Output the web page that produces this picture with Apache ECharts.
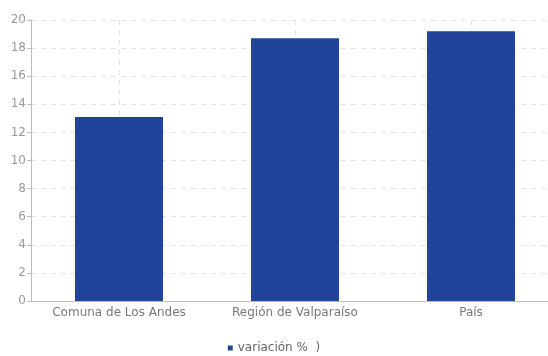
<!DOCTYPE html>
<html><head><meta charset="utf-8">
<script src="https://cdn.jsdelivr.net/npm/echarts@6/dist/echarts.min.js"></script>
<style>html,body{margin:0;padding:0;background:#fff}#c{width:548px;height:356px}</style>
</head><body><div id="c"></div>
<script>
const categories = ["Comuna de Los Andes", "Región de Valparaíso", "País"];
const values = [13.1, 18.7, 19.2];
const seriesName = "variación %  )";
const yTicks = {min: 0, max: 20, interval: 2};

const chart = echarts.init(document.getElementById('c'), null, {renderer: 'canvas'});
chart.setOption({
  animation: false,
  textStyle: {fontFamily: 'DejaVu Sans'},
  grid: {left: 31, width: 528, top: 20, bottom: 55, containLabel: false, outerBoundsMode: 'none'},
  legend: {
    top: 342, left: 'center', itemWidth: 5, itemHeight: 5, icon: 'rect', itemGap: 4, itemTextGap: 4,
    padding: 0,
    textStyle: {color: '#666', fontSize: 12, fontFamily: 'DejaVu Sans'},
    data: [seriesName]
  },
  xAxis: {
    type: 'category', data: categories,
    axisLine: {lineStyle: {color: '#bbb'}},
    axisTick: {alignWithLabel: true, length: 5, lineStyle: {color: '#bbb'}},
    axisLabel: {color: '#777', fontSize: 12, margin: 6, interval: 0, hideOverlap: false},
    splitLine: {show: true, alignWithLabel: true, lineStyle: {color: '#e3e3e3', type: [5, 5]}}
  },
  yAxis: {
    type: 'value', min: yTicks.min, max: yTicks.max, interval: yTicks.interval,
    axisLine: {show: true, lineStyle: {color: '#bbb'}},
    axisTick: {show: true, length: 4, lineStyle: {color: '#bbb'}},
    axisLabel: {color: '#999', fontSize: 12, margin: 5},
    splitLine: {show: true, lineStyle: {color: '#e3e3e3', type: [5, 5]}}
  },
  series: [{
    name: seriesName, type: 'bar', data: values, barWidth: '50%',
    itemStyle: {color: '#21449A'}
  }]
});
</script></body></html>
